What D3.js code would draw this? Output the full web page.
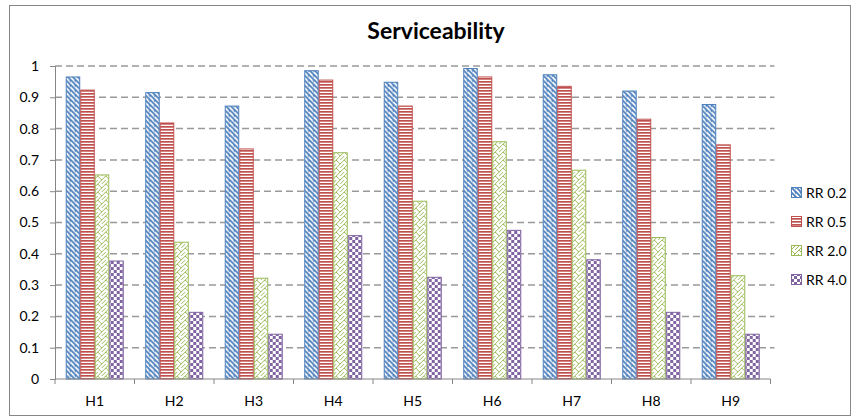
<!DOCTYPE html>
<html>
<head>
<meta charset="utf-8">
<script src="https://cdn.jsdelivr.net/npm/d3@7"></script>
<style>
  body { margin: 0; background: #fff; }
  text { font-family: Lato, "Open Sans", sans-serif; fill: #000; }
</style>
</head>
<body>
<script>
var width = 858,
    height = 419;

var categories = ["H1", "H2", "H3", "H4", "H5", "H6", "H7", "H8", "H9"];
var seriesNames = ["RR 0.2", "RR 0.5", "RR 2.0", "RR 4.0"];
var rr02 = [0.965, 0.915, 0.872, 0.985, 0.948, 0.992, 0.972, 0.920, 0.877];
var rr05 = [0.923, 0.818, 0.735, 0.955, 0.872, 0.965, 0.935, 0.830, 0.748];
var rr20 = [0.652, 0.437, 0.322, 0.723, 0.568, 0.758, 0.667, 0.452, 0.330];
var rr40 = [0.377, 0.213, 0.143, 0.458, 0.325, 0.475, 0.381, 0.213, 0.143];
var yTicks = [0, 0.1, 0.2, 0.3, 0.4, 0.5, 0.6, 0.7, 0.8, 0.9, 1];

var values = [rr02, rr05, rr20, rr40];
var colors = ["#4f81bd", "#c0504d", "#9bbb59", "#8064a2"];

var svg = d3.select("body").append("svg")
    .attr("width", width)
    .attr("height", height)

/* patterns for the bars */
var defs = svg.append("defs")

// blue: wide downward diagonal
var p0 = defs.append("pattern").attr("id", "pat0")
    .attr("patternUnits", "userSpaceOnUse").attr("width", 5).attr("height", 5)
p0.append("rect").attr("width", 5).attr("height", 5).attr("fill", "#fff")
p0.append("path").attr("d", "M-1,-1 L6,6 M-3.5,1.5 L1.5,6.5 M3.5,-1.5 L6.5,3.5")
    .attr("stroke", colors[0]).attr("stroke-width", 1.8)

// red: horizontal lines
var p1 = defs.append("pattern").attr("id", "pat1")
    .attr("patternUnits", "userSpaceOnUse").attr("width", 3).attr("height", 3)
p1.append("rect").attr("width", 3).attr("height", 3).attr("fill", "#fff")
p1.append("rect").attr("y", 0).attr("width", 3).attr("height", 1.7).attr("fill", colors[1])

// green: trellis / zigzag
var p2 = defs.append("pattern").attr("id", "pat2")
    .attr("patternUnits", "userSpaceOnUse").attr("width", 8).attr("height", 8)
p2.append("rect").attr("width", 8).attr("height", 8).attr("fill", "#fff")
p2.append("path").attr("d", "M0,8 L8,0 M0,0 L4,4 M4,8 L8,4")
    .attr("stroke", colors[2]).attr("stroke-width", 1).attr("fill", "none")

// purple: checkerboard
var p3 = defs.append("pattern").attr("id", "pat3")
    .attr("patternUnits", "userSpaceOnUse").attr("width", 6).attr("height", 6)
p3.append("rect").attr("width", 6).attr("height", 6).attr("fill", "#fff")
p3.append("rect").attr("width", 3).attr("height", 3).attr("fill", colors[3])
p3.append("rect").attr("x", 3).attr("y", 3).attr("width", 3).attr("height", 3).attr("fill", colors[3])

/* chart border */
svg.append("rect")
    .attr("x", 9.5).attr("y", 5.5)
    .attr("width", 841).attr("height", 410)
    .attr("fill", "none").attr("stroke", "#868686")

var plotLeft = 55, plotRight = 770.5, plotTop = 66, plotBottom = 379;

var x0 = d3.scaleBand()
    .domain(categories)
    .range([plotLeft, plotRight])
    .paddingInner(0.27)
    .paddingOuter(0.135)

var x1 = d3.scaleBand()
    .domain(d3.range(seriesNames.length))
    .range([0, x0.bandwidth()])

var y = d3.scaleLinear()
    .domain([0, 1])
    .range([plotBottom, plotTop])

/* gridlines */
svg.append("g").selectAll("line")
    .data(yTicks.filter(function (d) { return d > 0 }))
    .enter().append("line")
    .attr("x1", plotLeft).attr("x2", plotRight + 4)
    .attr("y1", function (d) { return y(d) }).attr("y2", function (d) { return y(d) })
    .attr("stroke", "#999")
    .attr("stroke-width", 1.5)
    .attr("stroke-dasharray", "7,4")

/* bars */
var groups = svg.append("g").selectAll("g")
    .data(categories)
    .enter().append("g")
    .attr("transform", function (d) { return "translate(" + x0(d) + ",0)" })

groups.selectAll("rect")
    .data(function (d, i) {
        return values.map(function (s, k) { return { k: k, v: s[i] } })
    })
    .enter().append("rect")
    .attr("x", function (d) { return x1(d.k) + 0.5 })
    .attr("y", function (d) { return y(d.v) })
    .attr("width", x1.bandwidth() - 1)
    .attr("height", function (d) { return y(0) - y(d.v) })
    .attr("fill", function (d) { return "url(#pat" + d.k + ")" })
    .attr("stroke", function (d) { return colors[d.k] })
    .attr("stroke-width", 1)

/* axes */
var yAxis = svg.append("g")
    .attr("transform", "translate(" + plotLeft + ",0)")
    .call(d3.axisLeft(y).tickValues(yTicks).tickSize(5).tickPadding(11)
        .tickFormat(function (d) { return d3.format("")(+d.toFixed(1)) }))
yAxis.select(".domain").attr("stroke", "#868686")
yAxis.selectAll(".tick line").attr("stroke", "#868686")
yAxis.selectAll("text").style("font-size", "14px")

var xAxis = svg.append("g")
    .attr("transform", "translate(0," + plotBottom + ")")
xAxis.append("line")
    .attr("x1", plotLeft).attr("x2", plotRight)
    .attr("stroke", "#868686")
xAxis.selectAll(".tk")
    .data(d3.range(categories.length + 1))
    .enter().append("line")
    .attr("x1", function (i) { return plotLeft + i * x0.step() })
    .attr("x2", function (i) { return plotLeft + i * x0.step() })
    .attr("y1", 0).attr("y2", 5)
    .attr("stroke", "#868686")
xAxis.selectAll("text")
    .data(categories)
    .enter().append("text")
    .attr("x", function (d) { return x0(d) + x0.bandwidth() / 2 })
    .attr("y", 27)
    .attr("text-anchor", "middle")
    .style("font-size", "14px")
    .text(function (d) { return d })

/* title */
svg.append("text")
    .attr("x", 436).attr("y", 39)
    .attr("text-anchor", "middle")
    .style("font-size", "23px")
    .style("font-weight", "bold")
    .text("Serviceability")

/* legend */
var legend = svg.append("g").selectAll("g")
    .data(seriesNames)
    .enter().append("g")
    .attr("transform", function (d, i) { return "translate(791," + (192 + i * 29) + ")" })

legend.append("rect")
    .attr("x", 0.5).attr("y", -4.5)
    .attr("width", 10).attr("height", 10)
    .attr("fill", function (d, i) { return "url(#pat" + i + ")" })
    .attr("stroke", function (d, i) { return colors[i] })

legend.append("text")
    .attr("x", 15).attr("y", 5.5)
    .style("font-size", "14px")
    .text(function (d) { return d })
</script>
</body>
</html>
